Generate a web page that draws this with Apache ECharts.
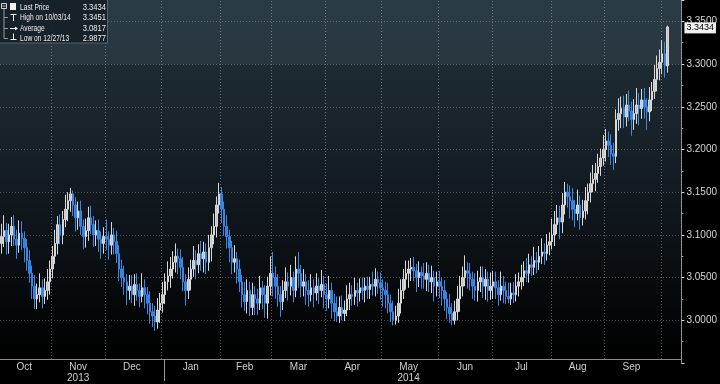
<!DOCTYPE html>
<html><head><meta charset="utf-8">
<style>html,body{margin:0;padding:0;background:#000;}#c{width:720px;height:384px;}</style>
<script src="https://cdn.jsdelivr.net/npm/echarts@6/dist/echarts.min.js"></script>
</head><body><div id="c"></div>
<script>
// ---- data ----
const firstDay = '2013-10-04';
const lastSlot = '2014-10-10';
const opens = [
3.090,3.098,3.105,3.092,3.100,3.110,3.095,3.088,3.102,3.096,
3.085,3.070,3.055,3.040,3.025,3.030,3.038,3.028,3.035,3.045,
3.060,3.075,3.090,3.112,3.100,3.118,3.130,3.140,3.148,3.135,
3.120,3.128,3.110,3.098,3.105,3.120,3.112,3.100,3.105,3.095,
3.090,3.098,3.095,3.088,3.100,3.092,3.078,3.060,3.050,3.045,
3.035,3.040,3.030,3.042,3.035,3.028,3.038,3.030,3.020,3.010,
3.005,2.998,3.012,3.020,3.030,3.045,3.052,3.060,3.068,3.075,
3.072,3.062,3.045,3.035,3.048,3.060,3.070,3.065,3.078,3.072,
3.080,3.068,3.085,3.100,3.110,3.135,3.148,3.130,3.110,3.098,
3.085,3.068,3.072,3.060,3.045,3.030,3.022,3.035,3.015,3.030,
3.025,3.020,3.038,3.030,3.020,3.040,3.055,3.050,3.040,3.030,
3.022,3.035,3.045,3.040,3.050,3.035,3.060,3.055,3.040,3.045,
3.035,3.030,3.038,3.032,3.040,3.035,3.042,3.030,3.025,3.035,
3.020,3.010,3.005,3.015,3.008,3.012,3.025,3.030,3.028,3.035,
3.032,3.038,3.035,3.040,3.036,3.042,3.040,3.048,3.044,3.038,
3.035,3.030,3.020,3.010,3.000,3.005,3.020,3.035,3.048,3.055,
3.060,3.062,3.058,3.050,3.056,3.052,3.048,3.055,3.045,3.050,
3.040,3.045,3.040,3.035,3.025,3.015,3.008,3.000,3.010,3.025,
3.040,3.050,3.058,3.055,3.048,3.040,3.035,3.045,3.050,3.040,
3.048,3.035,3.040,3.045,3.038,3.030,3.040,3.035,3.028,3.025,
3.032,3.030,3.040,3.045,3.050,3.058,3.055,3.065,3.062,3.070,
3.068,3.075,3.080,3.078,3.088,3.092,3.100,3.112,3.120,3.115,
3.135,3.150,3.145,3.140,3.130,3.125,3.135,3.120,3.128,3.140,
3.150,3.160,3.165,3.172,3.180,3.190,3.200,3.210,3.205,3.195,
3.192,3.235,3.242,3.248,3.238,3.252,3.245,3.235,3.242,3.252,
3.248,3.258,3.250,3.244,3.258,3.268,3.282,3.295,3.302,3.312,
3.298];
const closes = [
3.098,3.105,3.092,3.100,3.110,3.095,3.088,3.102,3.096,3.085,
3.070,3.055,3.040,3.025,3.030,3.038,3.028,3.035,3.045,3.060,
3.075,3.090,3.112,3.100,3.118,3.130,3.140,3.148,3.135,3.120,
3.128,3.110,3.098,3.105,3.120,3.112,3.100,3.105,3.095,3.090,
3.098,3.095,3.088,3.100,3.092,3.078,3.060,3.050,3.045,3.035,
3.040,3.030,3.042,3.035,3.028,3.038,3.030,3.020,3.010,3.005,
2.998,3.012,3.020,3.030,3.045,3.052,3.060,3.068,3.075,3.072,
3.062,3.045,3.035,3.048,3.060,3.070,3.065,3.078,3.072,3.080,
3.068,3.085,3.100,3.110,3.135,3.148,3.130,3.110,3.098,3.085,
3.068,3.072,3.060,3.045,3.030,3.022,3.035,3.015,3.030,3.025,
3.020,3.038,3.030,3.020,3.040,3.055,3.050,3.040,3.030,3.022,
3.035,3.045,3.040,3.050,3.035,3.060,3.055,3.040,3.045,3.035,
3.030,3.038,3.032,3.040,3.035,3.042,3.030,3.025,3.035,3.020,
3.010,3.005,3.015,3.008,3.012,3.025,3.030,3.028,3.035,3.032,
3.038,3.035,3.040,3.036,3.042,3.040,3.048,3.044,3.038,3.035,
3.030,3.020,3.010,3.000,3.005,3.020,3.035,3.048,3.055,3.060,
3.062,3.058,3.050,3.056,3.052,3.048,3.055,3.045,3.050,3.040,
3.045,3.040,3.035,3.025,3.015,3.008,3.000,3.010,3.025,3.040,
3.050,3.058,3.055,3.048,3.040,3.035,3.045,3.050,3.040,3.048,
3.035,3.040,3.045,3.038,3.030,3.040,3.035,3.028,3.025,3.032,
3.030,3.040,3.045,3.050,3.058,3.055,3.065,3.062,3.070,3.068,
3.075,3.080,3.078,3.088,3.092,3.100,3.112,3.120,3.115,3.135,
3.150,3.145,3.140,3.130,3.125,3.135,3.120,3.128,3.140,3.150,
3.160,3.165,3.172,3.180,3.190,3.200,3.210,3.205,3.195,3.192,
3.235,3.242,3.248,3.238,3.252,3.245,3.235,3.242,3.252,3.248,
3.258,3.250,3.244,3.258,3.268,3.282,3.295,3.302,3.312,3.298,
3.3434];
const lows = [
3.078,3.086,3.077,3.078,3.087,3.087,3.072,3.079,3.082,3.068,
3.058,3.044,3.025,3.013,3.013,3.021,3.014,3.019,3.024,3.030,
3.049,3.066,3.077,3.089,3.089,3.109,3.116,3.127,3.122,3.104,
3.106,3.100,3.083,3.085,3.093,3.101,3.086,3.087,3.080,3.072,
3.078,3.082,3.071,3.077,3.077,3.067,3.046,3.039,3.030,3.018,
3.024,3.020,3.017,3.023,3.015,3.021,3.014,3.007,2.996,2.992,
2.9877,2.990,2.997,3.009,3.019,3.035,3.038,3.049,3.056,3.054,
3.048,3.034,3.017,3.025,3.035,3.051,3.048,3.055,3.058,3.056,
3.054,3.058,3.069,3.089,3.097,3.125,3.114,3.099,3.084,3.068,
3.054,3.056,3.043,3.033,3.015,3.011,3.008,3.005,3.006,3.006,
3.006,3.012,3.013,3.003,3.002,3.029,3.028,3.025,3.016,3.004,
3.012,3.026,3.023,3.029,3.021,3.027,3.038,3.027,3.028,3.018,
3.016,3.022,3.015,3.023,3.019,3.027,3.014,3.011,3.014,3.002,
2.999,2.998,2.997,3.000,2.999,3.005,3.012,3.017,3.018,3.016,
3.022,3.024,3.021,3.025,3.025,3.029,3.028,3.031,3.024,3.016,
3.014,3.008,2.998,2.994,2.995,2.997,3.008,3.025,3.036,3.038,
3.046,3.046,3.033,3.039,3.037,3.037,3.034,3.033,3.032,3.022,
3.028,3.026,3.017,3.011,3.001,2.997,2.994,2.995,3.000,3.010,
3.028,3.040,3.037,3.035,3.025,3.023,3.022,3.033,3.026,3.024,
3.022,3.024,3.025,3.025,3.017,3.023,3.020,3.019,3.020,3.018,
3.020,3.022,3.028,3.036,3.040,3.045,3.044,3.052,3.053,3.055,
3.059,3.066,3.065,3.070,3.076,3.083,3.087,3.101,3.095,3.102,
3.124,3.132,3.119,3.117,3.109,3.117,3.106,3.111,3.118,3.124,
3.138,3.150,3.151,3.161,3.169,3.181,3.186,3.191,3.182,3.176,
3.184,3.222,3.225,3.225,3.227,3.233,3.216,3.223,3.230,3.228,
3.236,3.236,3.223,3.233,3.245,3.259,3.268,3.281,3.288,3.284,
3.290];
const highs = [
3.113,3.123,3.114,3.113,3.121,3.123,3.106,3.117,3.116,3.104,
3.095,3.082,3.064,3.053,3.043,3.055,3.048,3.049,3.060,3.070,
3.087,3.106,3.122,3.124,3.128,3.147,3.150,3.155,3.152,3.144,
3.139,3.140,3.118,3.119,3.133,3.134,3.122,3.117,3.118,3.104,
3.109,3.118,3.104,3.115,3.108,3.105,3.088,3.071,3.064,3.054,
3.053,3.053,3.054,3.055,3.043,3.055,3.048,3.039,3.034,3.020,
3.017,3.026,3.032,3.045,3.055,3.069,3.074,3.081,3.090,3.084,
3.083,3.074,3.054,3.062,3.071,3.087,3.082,3.089,3.093,3.092,
3.090,3.100,3.110,3.125,3.145,3.161,3.156,3.139,3.123,3.106,
3.093,3.088,3.080,3.071,3.053,3.045,3.048,3.045,3.044,3.040,
3.037,3.052,3.046,3.041,3.051,3.075,3.080,3.063,3.054,3.040,
3.047,3.062,3.056,3.065,3.057,3.075,3.080,3.065,3.060,3.054,
3.047,3.054,3.048,3.055,3.049,3.059,3.052,3.043,3.052,3.044,
3.031,3.028,3.028,3.029,3.023,3.041,3.044,3.041,3.050,3.044,
3.049,3.050,3.050,3.051,3.051,3.057,3.061,3.057,3.056,3.048,
3.045,3.044,3.030,3.023,3.017,3.037,3.048,3.060,3.070,3.070,
3.073,3.074,3.066,3.069,3.063,3.067,3.068,3.065,3.064,3.058,
3.057,3.058,3.050,3.047,3.033,3.031,3.020,3.023,3.040,3.052,
3.063,3.076,3.068,3.067,3.057,3.055,3.058,3.063,3.063,3.060,
3.057,3.056,3.058,3.057,3.047,3.057,3.052,3.045,3.044,3.044,
3.045,3.054,3.056,3.065,3.069,3.073,3.078,3.075,3.086,3.080,
3.087,3.096,3.090,3.101,3.103,3.119,3.128,3.135,3.134,3.149,
3.162,3.160,3.158,3.155,3.141,3.153,3.146,3.141,3.156,3.160,
3.173,3.182,3.184,3.195,3.201,3.217,3.224,3.221,3.218,3.208,
3.247,3.260,3.262,3.263,3.265,3.269,3.256,3.259,3.272,3.266,
3.271,3.272,3.260,3.273,3.279,3.299,3.310,3.317,3.328,3.326,
3.3451];
const monthNames = ['Jan','Feb','Mar','Apr','May','Jun','Jul','Aug','Sep','Oct','Nov','Dec'];
const yearUnder = {'2013-11':'2013','2014-05':'2014'};
const yMin = 2.95, yMax = 3.375, yStep = 0.05;
const legendRows = [
  {label:'Last Price', value:'3.3434'},
  {label:'High on 10/03/14', value:'3.3451'},
  {label:'Average', value:'3.0817'},
  {label:'Low on 12/27/13', value:'2.9877'}
];
const lastPrice = 3.3434;

// ---- categories: trading weekdays ----
function weekdays(s, e){
  const out=[]; let t=Date.parse(s+'T00:00:00Z'); const end=Date.parse(e+'T00:00:00Z');
  while(t<=end){ const d=new Date(t); const w=d.getUTCDay(); if(w!==0&&w!==6) out.push(d.toISOString().slice(0,10)); t+=86400000; }
  return out;
}
const dates = weekdays(firstDay, lastSlot);
const ohlc = opens.map((o,i)=>[o, closes[i], lows[i], highs[i]]);

const boundary = new Set(); const labelAt = new Map(); const groups=[];
dates.forEach((d,i)=>{ const ym=d.slice(0,7); if(!groups.length||groups[groups.length-1].ym!==ym){ groups.push({ym,s:i,e:i}); if(i>0) boundary.add(i);} else groups[groups.length-1].e=i; });
groups.forEach(g=>{ if(g.e-g.s+1>=10){ const m=monthNames[+g.ym.slice(5,7)-1]; const y=yearUnder[g.ym]; labelAt.set(Math.floor((g.s+g.e)/2), y? m+'\n'+y : m); }});
const yearIdx = dates.indexOf('2014-01-02');

const FONT = '"Liberation Sans",sans-serif';
const chart = echarts.init(document.getElementById('c'), null, {renderer:'canvas'});

const g = [];
g.push({type:'rect', shape:{x:-1,y:-1,width:108.5,height:44}, style:{fill:'rgba(22,32,39,0.92)', stroke:'#55636c', lineWidth:1}, z:100});
g.push({type:'rect', shape:{x:1.5,y:3.5,width:5,height:5}, style:{fill:'none', stroke:'#cfd6da', lineWidth:1}, z:101});
g.push({type:'line', shape:{x1:2.5,y1:6,x2:5.5,y2:6}, style:{stroke:'#cfd6da', lineWidth:1}, z:101});
g.push({type:'line', shape:{x1:4,y1:9,x2:4,y2:38.5}, style:{stroke:'#8f9aa0', lineWidth:1}, z:101});
[17.5,28.5,38.5].forEach(y=>g.push({type:'line', shape:{x1:4,y1:y,x2:8,y2:y}, style:{stroke:'#8f9aa0', lineWidth:1}, z:101}));
g.push({type:'rect', shape:{x:10,y:3,width:6,height:7}, style:{fill:'#f2f2f2'}, z:101});
g.push({type:'line', shape:{x1:10.5,y1:14.5,x2:16.5,y2:14.5}, style:{stroke:'#f2f2f2', lineWidth:1}, z:101});
g.push({type:'line', shape:{x1:13.5,y1:14.5,x2:13.5,y2:21}, style:{stroke:'#f2f2f2', lineWidth:1}, z:101});
g.push({type:'line', shape:{x1:10,y1:28.5,x2:17,y2:28.5}, style:{stroke:'#f2f2f2', lineWidth:1}, z:101});
g.push({type:'polygon', shape:{points:[[15,26.5],[18,28.5],[15,30.5]]}, style:{fill:'#f2f2f2'}, z:101});
g.push({type:'line', shape:{x1:13.5,y1:33.5,x2:13.5,y2:39.5}, style:{stroke:'#f2f2f2', lineWidth:1}, z:101});
g.push({type:'line', shape:{x1:10.5,y1:39.5,x2:16.5,y2:39.5}, style:{stroke:'#f2f2f2', lineWidth:1}, z:101});
const rowY=[7,17.5,28.5,38.5];
legendRows.forEach((r,i)=>{
  g.push({type:'text', x:20, y:rowY[i], scaleX:0.7, style:{text:r.label, fill:'#ededed', font:'9.5px '+FONT, verticalAlign:'middle', align:'left'}, z:101});
  g.push({type:'text', x:106, y:rowY[i], scaleX:0.8, style:{text:r.value, fill:'#ededed', font:'9.5px '+FONT, verticalAlign:'middle', align:'right'}, z:101});
});

const option = {
  backgroundColor:'#000',
  animation:false,
  grid:{left:0, right:31, top:0, bottom:18.2, show:true, borderWidth:0,
    backgroundColor:new echarts.graphic.LinearGradient(0,0,0,1,[
      {offset:0, color:'#2b3b45'},
      {offset:0.175, color:'#27363f'},
      {offset:0.178, color:'#1e2b33'},
      {offset:0.45, color:'#151e25'},
      {offset:0.7, color:'#0b1014'},
      {offset:0.9, color:'#030405'},
      {offset:1, color:'#000000'}])},
  xAxis:[{
    type:'category', data:dates, position:'bottom', offset:-4, boundaryGap:true,
    axisLine:{show:true, lineStyle:{color:'#8a8a8a', width:1}},
    axisTick:{show:true, inside:true, length:362, interval:(i)=>boundary.has(i),
      lineStyle:{color:'rgba(175,175,175,0.55)', type:[1,2], width:1}},
    axisLabel:{interval:(i)=>labelAt.has(i), formatter:(v,i)=>labelAt.get(i)||'',
      color:'#cfcfcf', fontSize:10, fontFamily:FONT, margin:3, lineHeight:11},
    splitLine:{show:false}
  },{
    type:'category', data:dates, position:'bottom', offset:-4, boundaryGap:false,
    axisLine:{show:false}, axisLabel:{show:false}, splitLine:{show:false},
    axisTick:{show:true, length:22, interval:(i)=>i===yearIdx, lineStyle:{color:'#9a9a9a', width:1}}
  }],
  yAxis:{type:'value', position:'right', min:yMin, max:yMax, interval:yStep,
    axisLine:{show:true, lineStyle:{color:'#8a8a8a'}},
    axisTick:{show:true, length:3, lineStyle:{color:'#d0d0d0'}},
    minorTick:{show:true, splitNumber:2, length:2, lineStyle:{color:'#9a9a9a'}},
    axisLabel:{showMinLabel:false, showMaxLabel:false, formatter:(v)=>v.toFixed(4),
      color:'#d4d4d4', fontSize:10, fontFamily:FONT, margin:5},
    splitLine:{show:true, showMinLine:false, showMaxLine:false,
      lineStyle:{color:'rgba(165,165,165,0.45)', type:[1,2], width:1}}
  },
  series:[{
    type:'candlestick', xAxisIndex:0, data:ohlc, barWidth:2, clip:false,
    itemStyle:{color:'#c4c4c4', color0:'#2f7fdc', borderColor:'#d8d8d8', borderColor0:'#3a88e6', borderWidth:1},
    markLine:{silent:true, symbol:'none', animation:false,
      lineStyle:{color:'rgba(0,0,0,0)', width:0, opacity:1}, data:[{yAxis:lastPrice}],
      label:{show:true, position:'end', distance:3, offset:[0,-2], formatter:()=>lastPrice.toFixed(4), opacity:1,
        backgroundColor:'#f2f2f2', color:'#000', padding:[1,2,0,2], lineHeight:10, fontSize:9, fontFamily:FONT}}
  }],
  graphic:g
};
chart.setOption(option);
</script></body></html>
